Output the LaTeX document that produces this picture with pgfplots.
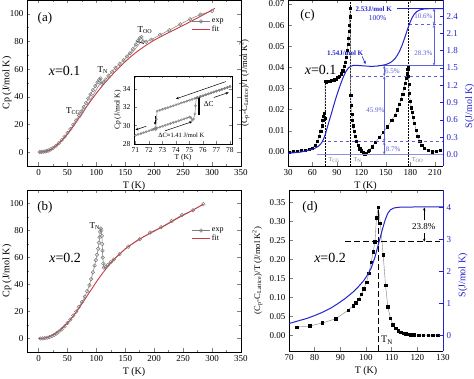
\documentclass[border=0pt]{standalone}
\usepackage{pgfplots}
\pgfplotsset{compat=1.18}
\usepackage{fontspec}
\setmainfont{Liberation Serif}
\usetikzlibrary{arrows.meta}
\definecolor{expgray}{RGB}{125,125,125}
\definecolor{fitred}{RGB}{205,55,65}
\definecolor{sblue}{RGB}{35,35,205}
\definecolor{ablue}{RGB}{95,95,215}
\pgfplotsset{
  myax/.style={
    scale only axis, anchor=south west,
    /pgf/number format/assume math mode=true,
    tick label style={font=\fontsize{9}{10}\selectfont},
    label style={font=\fontsize{10}{11}\selectfont},
    axis line style={line width=0.9pt},
    major tick length=3.5pt, minor tick length=2pt,
    every tick/.append style={line width=0.6pt},
    clip=false,
  },
}
\tikzset{arr/.style={-{Stealth[length=3pt,width=2.6pt]}}, darr/.style={{Stealth[length=3pt,width=2.6pt]}-{Stealth[length=3pt,width=2.6pt]}}}
\begin{document}
\begin{tikzpicture}
\path[use as bounding box] (0pt,0pt) rectangle (474pt,379pt);
%% ---------------- (a)
\begin{axis}[myax, at={(27pt,213pt)}, width=214pt, height=166pt,
  xmin=-20, xmax=350, ymin=-10, ymax=110,
  xtick={0,50,...,350}, ytick={0,20,...,100}, minor x tick num=1, minor y tick num=1,
  xlabel={T (K)}, ylabel={Cp (J/mol K)},
  xlabel style={at={(axis description cs:0.5,-0.075)}, anchor=north},
  ylabel style={at={(axis description cs:-0.056,0.5)}, anchor=south},
  legend style={draw=none, fill=none, at={(0.77,0.90)}, anchor=north west, font=\fontsize{8}{8}\selectfont, inner sep=0pt, row sep=-2pt},
  legend cell align=left,
]
\addplot[expgray, line width=0.5pt, mark=o, mark size=1.8pt, mark options={line width=0.5pt}] coordinates {
(2,0.1)(5,0.2)(8,0.3)(11,0.5)(14,0.8)(17,1.2)(21,2.0)(25,3.0)(30,4.6)(35,6.5)(40,8.8)(45,11.2)(50,13.8)(55,16.6)(60,19.8)(65,23.0)(70,26.5)(74,29.5)(78,32.5)(82,35.5)(86,38.8)(90,41.8)(94,44.8)(98,47.8)(102,50.5)(105,52.3)(107,53.3)(109,49.5)(112,50.5)(116,52.5)(121,55.3)(127,58.2)(133,61.0)(140,63.8)(147,66.5)(153,69.2)(158,71.5)(163,74.5)(168,77.8)(172,80.5)(175,82.3)(178,83.2)(181,80.0)(186,79.8)(195,81.3)(210,84.8)(226,88.2)(245,92.5)(262,96.2)(280,99.5)(300,102.0)};
\addlegendentry{exp}
\addplot[fitred, line width=0.9pt] coordinates {
(0,0)(10,0.3)(20,1.6)(30,4.4)(40,8.3)(50,13.0)(60,18.6)(70,24.8)(80,31.0)(90,37.0)(100,42.6)(110,47.8)(120,52.6)(130,57.2)(140,61.5)(150,65.5)(160,69.2)(170,72.6)(180,75.6)(190,78.4)(200,81.0)(220,85.4)(240,89.6)(260,93.8)(280,98.2)(300,102.8)(305,104.0)};
\addlegendentry{fit}
\addplot[expgray, line width=0.5pt, forget plot] coordinates {(72,25.0)(108,51.0)};
\addplot[expgray, line width=0.5pt, forget plot] coordinates {(158,70.0)(180,81.2)};
\addplot[black, line width=0.6pt, forget plot] coordinates {(168,80.5)(182,78.5)};
\node[font=\fontsize{13}{13}\selectfont] at (axis cs:11,97) {(a)};
\node[font=\fontsize{14}{14}\selectfont] at (axis cs:45,59) {\textit{x}=0.1};
\node[font=\fontsize{9}{9}\selectfont] at (axis cs:60,30) {T\textsubscript{CG}};
\node[font=\fontsize{9}{9}\selectfont] at (axis cs:111,59) {T\textsubscript{N}};
\node[font=\fontsize{9}{9}\selectfont] at (axis cs:184,88) {T\textsubscript{OO}};
\end{axis}
%% inset
\fill[white] (116pt,220pt) rectangle (234pt,305pt);
\begin{axis}[myax, at={(134pt,235pt)}, width=98pt, height=68pt,
  xmin=70.89, xmax=78.15, ymin=28, ymax=35.46,
  xtick={71,...,78}, ytick={28,30,32,34},
  tick label style={font=\fontsize{7.5}{8}\selectfont},
  label style={font=\fontsize{7.5}{8}\selectfont},
  xlabel={T (K)}, ylabel={Cp (J/mol K)},
  xlabel style={yshift=5pt}, ylabel style={yshift=-5pt},
  major tick length=2.5pt, axis line style={line width=0.8pt},
]
\addplot[expgray, line width=0.5pt, mark=o, mark size=1.1pt, mark options={line width=0.4pt}] coordinates {
(71.0,28.95)(71.2,29.05)(71.4,29.15)(71.6,29.25)(71.8,29.35)(72.0,29.45)(72.2,29.55)(72.4,29.65)(72.5,29.6)(72.6,29.75)(72.8,29.85)(73.0,29.95)(73.2,30.05)(73.4,30.15)(73.6,30.25)(73.8,30.35)(74.0,30.45)(74.2,30.55)(74.4,30.65)(74.6,30.75)(74.8,30.85)(75.0,30.95)(75.1,30.9)(75.2,30.6)(75.3,30.75)(75.4,31.3)(75.45,32.2)(75.5,33.05)(75.6,33.1)(75.8,33.2)(76.0,33.3)(76.2,33.4)(76.4,33.5)(76.6,33.6)(76.8,33.7)(77.0,33.8)(77.2,33.9)(77.4,34.0)(77.6,34.1)(77.8,34.2)(78.0,34.3)};
\addplot[expgray, line width=0.5pt, mark=o, mark size=1.1pt, mark options={line width=0.4pt}] coordinates {
(78.0,34.3)(77.8,34.2)(77.6,34.1)(77.4,34.0)(77.2,33.9)(77.0,33.8)(76.8,33.7)(76.6,33.6)(76.4,33.5)(76.2,33.4)(76.0,33.3)(75.8,33.2)(75.6,33.1)(75.4,33.0)(75.2,32.9)(75.0,32.8)(74.8,32.7)(74.6,32.6)(74.4,32.5)(74.2,32.4)(74.0,32.3)(73.8,32.2)(73.6,32.1)(73.4,32.0)(73.2,31.9)(73.0,31.8)(72.8,31.7)(72.6,31.6)(72.55,30.7)(72.5,29.8)(72.3,29.6)};
\draw[black, arr, line width=0.5pt] (axis cs:77.7,34.85) -- (axis cs:74.0,32.95);
\draw[black, arr, line width=0.5pt] (axis cs:71.8,29.95) -- (axis cs:71.0,29.55);
\draw[black, arr, line width=0.5pt] (axis cs:72.45,31.1) -- (axis cs:72.45,30.1);
\draw[black, arr, line width=0.5pt] (axis cs:73.2,29.45) -- (axis cs:75.2,30.45);
\draw[black, arr, line width=0.5pt] (axis cs:76.8,33.1) -- (axis cs:77.9,33.65);
\draw[black, line width=1.2pt] (axis cs:75.7,31.2) -- (axis cs:75.7,33.2);
\node[font=\fontsize{7.5}{8}\selectfont, anchor=west] at (axis cs:75.8,32.4) {ΔC};
\node[font=\fontsize{6.5}{7}\selectfont] at (axis cs:74.4,28.9) {ΔC≈1.41 J/mol K};
\end{axis}
%% ---------------- (b)
\begin{axis}[myax, at={(27pt,27pt)}, width=214pt, height=162pt,
  xmin=-20, xmax=350, ymin=-10, ymax=110,
  xtick={0,50,...,350}, ytick={0,20,...,100}, minor x tick num=1, minor y tick num=1,
  xlabel={T (K)}, ylabel={Cp (J/mol K)},
  xlabel style={at={(axis description cs:0.5,-0.075)}, anchor=north},
  ylabel style={at={(axis description cs:-0.056,0.5)}, anchor=south},
  legend style={draw=none, fill=none, at={(0.77,0.78)}, anchor=north west, font=\fontsize{8}{8}\selectfont, inner sep=0pt, row sep=-2pt},
  legend cell align=left,
]
\addplot[expgray, line width=0.5pt, mark=o, mark size=1.8pt, mark options={line width=0.5pt}] coordinates {
(3,0)(7,0.1)(11,0.3)(15,0.6)(19,1.1)(23,1.8)(27,2.7)(31,3.8)(35,5)(40,6.8)(45,9)(50,11.5)(55,14)(60,17)(65,20)(70,23.5)(75,27)(80,31)(84,35)(88,39.5)(91,44)(94,49)(97,54)(99,58)(101,62)(103,66.5)(104.5,71)(105.5,75)(106.5,79)(107.5,81.5)(108.5,80)(109.5,76)(110,70)(110.5,65)(111,60)(112,55.5)(113,52.5)(116,53)(120,54.5)(125,56.5)(130,58.5)(140,62.5)(155,68)(175,73.5)(193,78.5)(212,82.5)(230,87)(248,91.5)(267,95)(285,99.5)};
\addlegendentry{exp}
\addplot[fitred, line width=0.9pt] coordinates {
(0,0)(10,0.3)(20,1.5)(30,4)(40,7.5)(50,11.5)(60,16.5)(70,22.5)(80,29)(90,35.5)(100,42)(110,48)(120,53.5)(130,58.5)(140,62.5)(150,66.5)(160,69.5)(170,72.5)(180,75)(200,79.5)(220,84)(240,89)(260,93.5)(285,99.5)};
\addlegendentry{fit}
\node[font=\fontsize{13}{13}\selectfont] at (axis cs:11,97) {(b)};
\node[font=\fontsize{14}{14}\selectfont] at (axis cs:46,60) {\textit{x}=0.2};
\node[font=\fontsize{9}{9}\selectfont] at (axis cs:97,83) {T\textsubscript{N}};
\end{axis}
%% ---------------- (c)
\begin{axis}[myax, at={(288pt,213pt)}, width=155pt, height=166pt,
  xmin=30, xmax=220, ymin=-0.0066, ymax=0.0719,
  axis y line*=left,
  xtick={30,60,...,210}, ytick={0,0.01,...,0.07},
  yticklabels={0.00,0.01,0.02,0.03,0.04,0.05,0.06,0.07},
  xlabel={T (K)}, ylabel={(C\textsubscript{p}-C\textsubscript{Lattice})/T (J/mol K\textsuperscript{2})},
  xlabel style={at={(axis description cs:0.5,-0.075)}, anchor=north},
  ylabel style={at={(axis description cs:-0.226,0.5)}, anchor=south, font=\fontsize{8.6}{9}\selectfont},
]
\draw[black, densely dotted, line width=0.5pt] (axis cs:75.5,-0.0066) -- (axis cs:75.5,0.034);
\draw[black, densely dotted, line width=0.5pt] (axis cs:106.2,-0.0066) -- (axis cs:106.2,0.0719);
\draw[black, densely dotted, line width=0.5pt] (axis cs:177.5,-0.0066) -- (axis cs:177.5,0.0719);
\addplot[expgray, line width=0.4pt, mark=square*, mark size=1.1pt, mark options={black}] coordinates {
(31,0.0001)(36,0.0003)(41,0.0005)(46,0.0008)(51,0.0010)(56,0.0013)(60,0.0020)(63,0.0032)(66,0.0050)(68,0.0075)(70,0.0100)(71.5,0.0125)(72.5,0.0150)(73.5,0.0170)(74.5,0.0183)(75.3,0.0160)(75.6,0.0335)(77,0.0333)(79,0.0334)(81,0.0336)(83,0.0338)(85,0.0340)(87,0.0342)(89,0.0346)(91,0.0352)(93,0.0360)(95,0.0370)(97,0.0385)(99,0.0405)(100.5,0.0425)(101.5,0.0450)(102.5,0.0480)(103.5,0.0510)(104.2,0.0540)(104.8,0.0570)(105.3,0.0600)(105.8,0.0640)(106.2,0.0680)(106.8,0.0270)(107.5,0.0220)(108.3,0.0180)(109,0.0150)(110,0.0125)(111,0.0100)(112.5,0.0075)(114,0.0052)(116,0.0032)(118,0.0016)(120,0.0006)(122,0.0000)(124,-0.0008)(126,-0.0005)(128,0.0003)(130,0.0010)(133,0.0025)(137,0.0045)(142,0.0070)(147,0.0095)(152,0.0120)(157,0.0150)(161,0.0175)(164,0.0200)(166.5,0.0225)(168.5,0.0250)(170.5,0.0275)(172,0.0300)(173.5,0.0325)(175,0.0350)(176,0.0370)(176.8,0.0390)(177.3,0.0405)(177.8,0.0360)(178.1,0.0320)(178.6,0.0280)(180,0.0240)(181,0.0210)(182,0.0190)(183.3,0.0165)(185,0.0135)(187,0.0105)(189,0.0075)(191.5,0.0050)(194,0.0032)(197,0.0020)(202,0.0008)(207,0.0002)(212,0.0004)(217,0.0010)};
\node[font=\fontsize{13}{13}\selectfont] at (axis cs:54,0.0648) {(c)};
\node[font=\fontsize{14}{14}\selectfont] at (axis cs:70,0.0387) {\textit{x}=0.1};
\node[font=\fontsize{6}{6}\selectfont, expgray, anchor=west] at (axis cs:75.5,-0.0037) {T\textsubscript{CG}};
\node[font=\fontsize{6}{6}\selectfont, expgray, anchor=west] at (axis cs:106.2,-0.0037) {T\textsubscript{N}};
\node[font=\fontsize{6}{6}\selectfont, expgray, anchor=west] at (axis cs:177.5,-0.0037) {T\textsubscript{OO}};
\end{axis}
\begin{axis}[myax, at={(288pt,213pt)}, width=155pt, height=166pt,
  xmin=30, xmax=220, ymin=-0.2, ymax=2.68,
  axis y line*=right, axis x line=none,
  ytick={0,0.3,...,2.5},
  yticklabels={0.0,0.3,0.6,0.9,1.2,1.5,1.8,2.1,2.4},
  y axis line style={sblue}, ytick style={sblue}, yticklabel style={sblue},
  ylabel={S(J/mol K)}, ylabel style={sblue, at={(axis description cs:1.12,0.36)}, anchor=north},
]
\addplot[ablue!70, line width=1.4pt] coordinates {(65,0)(220,0)};
\addplot[ablue, dashed, line width=0.6pt] coordinates {(72,0.22)(220,0.22)};
\addplot[ablue, dashed, line width=0.6pt] coordinates {(106,1.357)(220,1.357)};
\addplot[ablue, line width=0.6pt] coordinates {(140,1.54)(220,1.54)};
\addplot[ablue, dashed, line width=0.6pt] coordinates {(178,2.25)(220,2.25)};
\addplot[sblue, line width=0.6pt] coordinates {(164,2.53)(220,2.53)};
\addplot[sblue, line width=1pt] coordinates {
(30,0.02)(45,0.04)(55,0.07)(62,0.10)(67,0.14)(70,0.18)(72,0.22)(74,0.28)(76,0.36)(78,0.46)(80,0.56)(83,0.70)(86,0.85)(89,0.99)(92,1.12)(95,1.24)(98,1.35)(101,1.44)(104,1.50)(107,1.53)(110,1.545)(115,1.545)(120,1.54)(125,1.535)(130,1.53)(135,1.53)(140,1.535)(145,1.545)(150,1.56)(155,1.59)(158,1.62)(161,1.66)(164,1.72)(167,1.80)(170,1.90)(173,2.02)(176,2.15)(179,2.27)(182,2.37)(185,2.44)(188,2.48)(192,2.51)(197,2.525)(205,2.53)(220,2.53)};
\draw[ablue, darr, line width=0.6pt] (axis cs:148,0) -- (axis cs:148,0.22);
\draw[ablue, darr, line width=0.6pt] (axis cs:148,0.22) -- (axis cs:148,1.357);
\draw[ablue, darr, line width=0.6pt] (axis cs:148,1.357) -- (axis cs:148,1.54);
\draw[ablue, darr, line width=0.6pt] (axis cs:209,1.54) -- (axis cs:209,2.25);
\draw[ablue, darr, line width=0.6pt] (axis cs:209,2.25) -- (axis cs:209,2.53);
\node[ablue, font=\fontsize{7}{7}\selectfont] at (axis cs:137,0.76) {45.9\%};
\node[ablue, font=\fontsize{7}{7}\selectfont] at (axis cs:159,0.09) {8.7\%};
\node[ablue, font=\fontsize{7}{7}\selectfont] at (axis cs:158,1.45) {6.5\%};
\node[ablue, font=\fontsize{7}{7}\selectfont] at (axis cs:196,1.75) {28.3\%};
\node[ablue, font=\fontsize{7}{7}\selectfont] at (axis cs:196,2.40) {10.6\%};
\node[sblue, font=\bfseries\fontsize{7}{7}\selectfont] at (axis cs:135,2.53) {2.53J/mol K};
\node[sblue, font=\fontsize{7.5}{7.5}\selectfont] at (axis cs:140,2.37) {100\%};
\node[sblue, font=\bfseries\fontsize{7}{7}\selectfont] at (axis cs:100,1.76) {1.54J/mol K};
\draw[sblue, arr, line width=0.6pt] (axis cs:121,1.70) -- (axis cs:125,1.57);
\end{axis}
%% ---------------- (d)
\begin{axis}[myax, at={(289pt,28pt)}, width=154pt, height=161pt,
  xmin=70, xmax=130, ymin=-0.042, ymax=0.383,
  axis y line*=left,
  xtick={70,80,...,130}, ytick={0,0.05,...,0.36},
  yticklabels={0.00,0.05,0.10,0.15,0.20,0.25,0.30,0.35},
  xlabel={T (K)}, ylabel={(C\textsubscript{p}-C\textsubscript{Lattice})/T (J/mol K\textsuperscript{2})},
  xlabel style={at={(axis description cs:0.5,-0.075)}, anchor=north},
  ylabel style={at={(axis description cs:-0.15,0.5)}, anchor=south, font=\fontsize{8.6}{9}\selectfont},
]
\addplot[expgray, line width=0.4pt, mark=square*, mark size=1.3pt, mark options={black}] coordinates {
(73.1,0.021)(78.1,0.024)(83.0,0.032)(88.2,0.043)(93.1,0.066)(95.0,0.078)(96.0,0.086)(97.2,0.095)(98.2,0.108)(99.2,0.122)(100.2,0.140)(101.1,0.163)(102.0,0.192)(102.8,0.220)(103.5,0.247)(104.1,0.310)(104.8,0.338)(105.6,0.295)(106.7,0.212)(107.6,0.132)(108.5,0.075)(109.5,0.045)(110.5,0.028)(111.5,0.018)(112.5,0.012)(113.5,0.008)(114.5,0.005)(115.5,0.003)(116.5,0.002)(117.5,0.001)(118.8,0.0005)(120.5,0)(122.3,0)(124.2,0)(126.1,0)(128,0)};
\draw[black, line width=1.1pt, dash pattern=on 6pt off 3pt] (axis cs:104.7,-0.042) -- (axis cs:104.7,0.337);
\node[font=\fontsize{13}{13}\selectfont] at (axis cs:78.2,0.336) {(d)};
\node[font=\fontsize{14}{14}\selectfont] at (axis cs:86,0.204) {\textit{x}=0.2};
\node[font=\fontsize{10}{10}\selectfont] at (axis cs:108.2,-0.013) {T\textsubscript{N}};
\end{axis}
\begin{axis}[myax, at={(289pt,28pt)}, width=154pt, height=161pt,
  xmin=70, xmax=130, ymin=-0.49, ymax=4.55,
  axis y line*=right, axis x line=none,
  ytick={0,1,2,3,4},
  y axis line style={sblue}, ytick style={sblue}, yticklabel style={sblue},
  ylabel={S(J/mol K)}, ylabel style={sblue, at={(axis description cs:1.078,0.47)}, anchor=north},
]
\addplot[sblue, line width=1pt] coordinates {
(70,0.37)(73,0.44)(77,0.53)(80,0.62)(83,0.72)(86,0.84)(89,0.99)(92,1.16)(95,1.36)(97,1.52)(99,1.70)(100.5,1.88)(102,2.10)(103.5,2.45)(104.5,2.75)(105.5,3.05)(106.5,3.35)(107.5,3.62)(108.5,3.82)(109.5,3.93)(111,3.99)(113,4.01)(120,4.02)(130,4.02)};
\draw[black, line width=1.1pt, dash pattern=on 6pt off 3pt] (axis cs:91.8,2.93) -- (axis cs:129,2.93);
\draw[black, arr, line width=0.7pt] (axis cs:122.7,3.62) -- (axis cs:122.7,4.0);
\draw[black, arr, line width=0.7pt] (axis cs:122.7,3.2) -- (axis cs:122.7,2.93);
\node[font=\fontsize{9}{9}\selectfont] at (axis cs:122.5,3.41) {23.8\%};
\end{axis}
\end{tikzpicture}
\end{document}
